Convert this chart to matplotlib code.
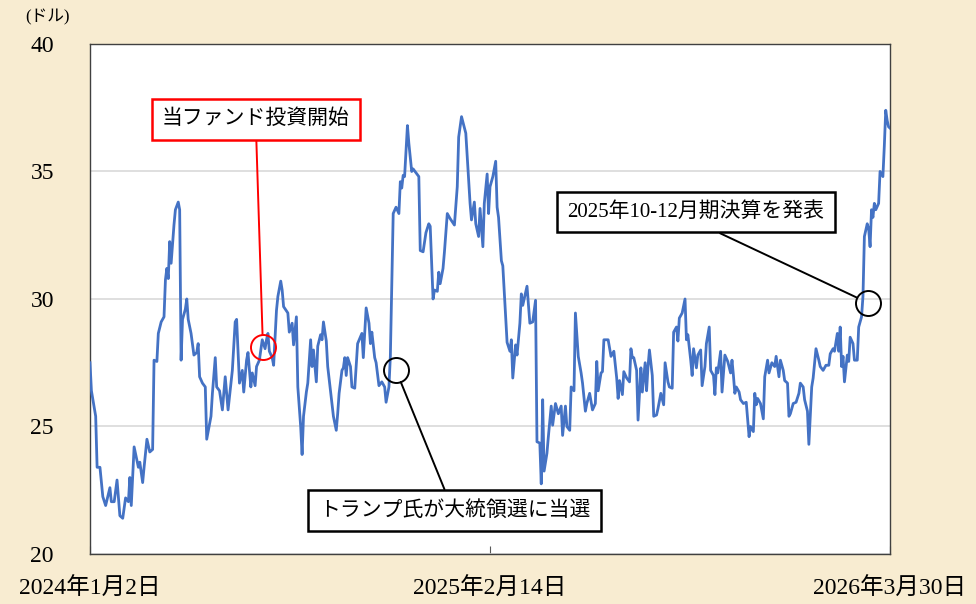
import matplotlib
matplotlib.use("Agg")
import matplotlib.pyplot as plt

plt.rcParams['font.family'] = ['Liberation Serif', 'Noto Sans CJK JP']

# trading-day index (0 = 2024/1/2, 562 = 2026/3/30) and share price (USD)
day = [0, 1, 4, 5, 7, 9, 11, 14, 15, 17, 19, 21, 23, 25, 27, 28, 29, 31, 34, 35,
       37, 38, 40, 42, 44, 45, 47, 48, 50, 52, 53, 54, 55, 56, 57, 59, 60, 62, 63, 64,
       65, 67, 68, 69, 71, 73, 75, 76, 77, 79, 81, 82, 85, 86, 88, 89, 91, 93, 95, 97,
       100, 102, 103, 105, 107, 108, 110, 111, 113, 114, 116, 117, 119, 121, 123, 124, 125, 126, 128, 129,
       131, 132, 134, 135, 136, 139, 140, 142, 143, 145, 146, 148, 149, 150, 152, 153, 155, 156, 157, 159,
       160, 162, 163, 164, 166, 167, 170, 171, 173, 174, 175, 177, 178, 179, 180, 181, 183, 184, 186, 188,
       191, 192, 194, 196, 197, 198, 200, 201, 203, 205, 207, 208, 210, 211, 213, 215, 217, 218, 219, 220,
       221, 223, 224, 226, 227, 231, 232, 234, 236, 238, 239, 241, 242, 244, 245, 246, 248, 249, 251, 253,
       256, 258, 259, 261, 264, 267, 268, 270, 271, 273, 274, 276, 277, 279, 280, 281, 283, 285, 286, 287,
       289, 290, 293, 295, 296, 297, 299, 300, 302, 303, 304, 307, 309, 311, 313, 314, 316, 317, 318, 319,
       321, 322, 324, 325, 327, 329, 331, 332, 334, 335, 337, 338, 340, 341, 343, 345, 346, 348, 349, 351,
       353, 355, 356, 357, 359, 360, 361, 364, 366, 368, 370, 371, 372, 374, 375, 377, 379, 380, 381, 382,
       384, 385, 387, 388, 390, 391, 392, 393, 395, 396, 398, 399, 401, 403, 404, 406, 407, 409, 410, 412,
       413, 414, 416, 418, 419, 420, 422, 423, 424, 426, 427, 429, 430, 432, 433, 435, 436, 438, 439, 440,
       441, 443, 444, 446, 448, 450, 451, 452, 453, 454, 456, 457, 459, 461, 462, 463, 464, 466, 467, 468,
       469, 471, 473, 474, 476, 477, 479, 481, 482, 484, 485, 487, 488, 490, 491, 492, 494, 496, 498, 499,
       501, 502, 504, 505, 507, 508, 510, 512, 513, 515, 517, 519, 520, 522, 523, 525, 526, 527, 528, 529,
       530, 532, 533, 534, 536, 537, 539, 540, 542, 543, 544, 546, 547, 548, 549, 550, 551, 552, 554, 555,
       557, 558, 559, 560, 561, 562]
price = [27.5, 26.4, 25.4, 23.4, 23.4, 22.25, 21.9, 22.6, 22.05, 22.05, 22.9, 21.5, 21.4, 22.2, 22.05, 23.0, 21.9, 24.2, 23.4, 23.6,
         22.8, 23.4, 24.5, 24.0, 24.1, 27.6, 27.55, 28.65, 29.1, 29.3, 30.75, 31.2, 30.8, 32.25, 31.4, 32.9, 33.5, 33.8, 33.5, 27.6,
         29.2, 29.6, 30.0, 29.2, 28.65, 27.8, 27.9, 28.25, 26.95, 26.7, 26.55, 24.5, 25.4, 26.3, 27.7, 26.55, 26.4, 25.65, 26.95, 25.65,
         27.2, 29.1, 29.2, 26.7, 27.2, 26.35, 27.6, 27.9, 26.55, 27.1, 26.6, 27.35, 27.6, 28.4, 28.05, 28.4, 28.65, 27.95, 27.7, 27.4,
         29.55, 30.1, 30.7, 30.35, 29.7, 29.45, 28.7, 29.05, 28.2, 29.3, 26.55, 25.0, 23.9, 25.4, 26.35, 26.7, 28.4, 27.35, 28.0, 26.75,
         28.15, 28.6, 28.4, 29.1, 28.35, 27.35, 25.9, 25.4, 24.85, 25.5, 26.3, 27.2, 27.3, 27.7, 27.0, 27.7, 27.35, 26.55, 26.5, 28.25,
         28.65, 27.7, 29.65, 29.05, 28.25, 28.7, 27.7, 27.5, 26.6, 26.75, 26.55, 25.95, 26.55, 27.75, 33.35, 33.6, 33.35, 34.6, 34.35, 34.85,
         34.8, 36.8, 36.1, 35.0, 35.1, 34.8, 31.9, 31.85, 32.6, 32.95, 32.85, 30.0, 30.35, 30.3, 31.05, 30.6, 31.2, 31.85, 33.35, 33.15,
         32.9, 34.4, 36.35, 37.15, 36.5, 33.75, 33.1, 33.8, 32.95, 32.45, 33.55, 32.05, 33.75, 34.9, 33.35, 34.4, 34.8, 35.4, 33.6, 33.2,
         31.5, 31.3, 28.3, 27.95, 28.4, 26.9, 28.2, 27.8, 29.05, 30.2, 29.75, 30.5, 29.05, 29.1, 29.95, 24.4, 24.35, 22.75, 26.05, 23.25,
         23.95, 24.6, 25.8, 25.05, 25.9, 25.5, 25.8, 24.65, 25.8, 25.0, 24.85, 26.55, 26.4, 29.45, 27.75, 27.1, 26.7, 25.6, 25.9, 26.3,
         25.65, 25.9, 27.55, 26.4, 27.1, 27.15, 28.4, 28.4, 27.75, 27.95, 26.9, 26.1, 26.8, 26.25, 27.15, 26.9, 26.75, 28.05, 27.7, 27.7,
         27.2, 25.25, 27.3, 26.35, 27.5, 26.4, 27.35, 28.0, 27.0, 25.4, 25.45, 25.7, 26.3, 25.85, 27.5, 26.75, 26.55, 26.5, 28.7, 28.9,
         28.35, 29.25, 29.45, 30.0, 28.4, 28.6, 27.6, 27.0, 28.05, 27.3, 27.8, 28.0, 26.6, 27.35, 28.25, 28.9, 27.2, 27.0, 26.25, 27.3,
         27.1, 27.95, 26.35, 27.8, 27.55, 27.1, 27.6, 27.0, 26.3, 26.55, 26.35, 26.05, 25.9, 25.95, 25.25, 24.6, 25.0, 24.8, 26.3, 25.85,
         26.1, 25.9, 25.3, 26.95, 27.6, 27.1, 27.5, 27.35, 27.75, 26.95, 27.6, 27.2, 26.8, 26.7, 25.4, 25.5, 25.9, 25.95, 26.3, 26.7,
         26.55, 26.05, 25.6, 24.3, 26.55, 26.9, 28.05, 27.6, 27.35, 27.2, 27.4, 27.4, 27.85, 28.05, 27.95, 28.65, 27.95, 28.9, 27.35, 27.75,
         26.75, 27.8, 27.55, 28.5, 28.25, 27.6, 27.6, 28.9, 29.3, 30.1, 32.45, 32.95, 32.75, 32.05, 33.5, 33.2, 33.75, 33.5, 33.75, 35.0,
         34.8, 36.0, 37.4, 37.0, 36.75, 36.7]

tick_days = [0, 281, 562]
tick_labels = ['2024年1月2日', '2025年2月14日', '2026年3月30日']

# events: label, circled point (day, price), label box centre (axes fraction), colour
events = [
    ('当ファンド投資開始', 121.5, 28.1, (0.2075, 0.852), 'red'),
    ('トランプ氏が大統領選に当選', 215, 27.2, (0.4556, 0.0853), 'black'),
    ('2025年10-12月期決算を発表', 546.5, 29.85, (0.7575, 0.6706), 'black'),
]

fig = plt.figure(figsize=(9.76, 6.04), dpi=100)
fig.patch.set_facecolor('#F8ECD1')
ax = fig.add_axes([0.0922, 0.0828, 0.8197, 0.8444])
ax.set_facecolor('white')

ax.plot(day, price, color='#4472C4', lw=2.0, zorder=3)

ax.set_xlim(0, 562)
ax.set_ylim(20, 40)
ax.set_yticks([20, 25, 30, 35, 40])
ax.set_yticklabels(['20', '25', '30', '35', '40'])
ax.grid(axis='y', color='#D9D9D9', lw=1.2)
ax.set_axisbelow(True)
ax.tick_params(axis='y', length=0, pad=26, labelsize=17)
ax.set_xticks(tick_days)
ax.set_xticklabels(tick_labels)
ax.tick_params(axis='x', direction='in', length=6, width=0.8, color='#595959',
               pad=17, labelsize=17)
for s in ax.spines.values():
    s.set_color('#404040')
    s.set_linewidth(1.0)

fig.text(0.026, 0.972, '(ドル)', fontsize=12, va='center')

for label, d, p, pos, col in events:
    ax.plot(d, p, 'o', ms=18, mfc='none', mec=col, mew=1.4, zorder=4)
    ax.annotate(label, xy=(d, p), xycoords='data', xytext=pos, textcoords='axes fraction',
                ha='center', va='center', fontsize=15, zorder=5,
                bbox=dict(boxstyle='square,pad=0.5', fc='white', ec=col, lw=1.8),
                arrowprops=dict(arrowstyle='-', color=col, lw=1.4, relpos=(0.5, 0) if pos[1] > 0.5 else (0.48, 1),
                                shrinkA=0, shrinkB=9))

fig.savefig('out.png', dpi=100, facecolor=fig.get_facecolor())
